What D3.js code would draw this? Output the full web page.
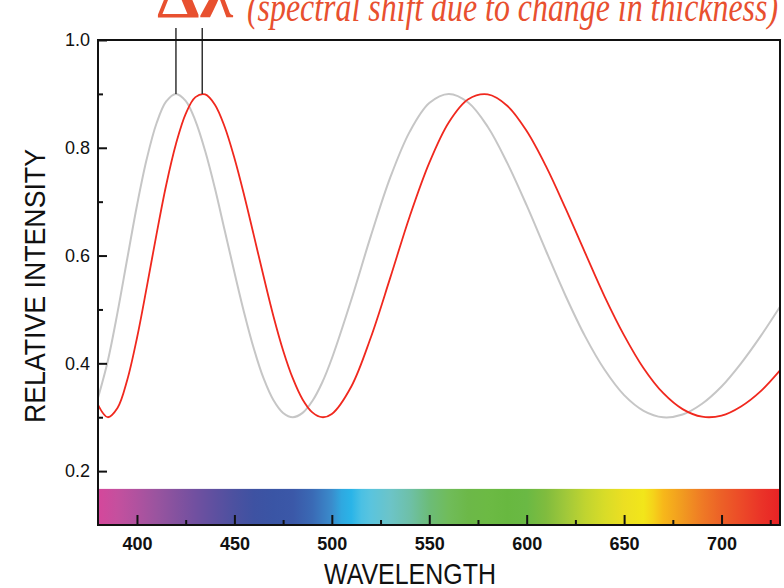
<!DOCTYPE html>
<html><head><meta charset="utf-8">
<script src="https://cdn.jsdelivr.net/npm/d3@7"></script>
<style>
html,body{margin:0;padding:0;background:#fff;}
svg{display:block;}
</style></head>
<body>
<svg id="chart" width="784" height="588"></svg>
<script>
// ---- data ----
const wavelengths = [380,385,390,395,400,405,410,415,420,425,430,435,440,445,450,455,460,465,470,475,480,485,490,495,500,
  510,520,530,540,550,560,570,580,590,600,610,620,630,640,650,660,670,680,690,700,710,720,730];
const intensityThin = [0.336,0.404,0.494,0.594,0.693,0.779,0.845,0.886,0.900,0.887,0.850,0.794,0.725,0.647,0.569,0.494,0.427,0.372,0.332,0.308,0.300,0.308,0.330,0.364,0.409,
  0.518,0.636,0.745,0.830,0.883,0.900,0.884,0.839,0.772,0.693,0.608,0.525,0.450,0.388,0.341,0.312,0.300,0.305,0.325,0.357,0.400,0.450,0.505];
const intensityThick = [0.323,0.300,0.317,0.369,0.447,0.541,0.639,0.731,0.807,0.863,0.894,0.899,0.880,0.839,0.781,0.712,0.637,0.561,0.488,0.424,0.372,0.333,0.309,0.300,0.306,
  0.357,0.448,0.559,0.673,0.772,0.847,0.890,0.899,0.878,0.831,0.765,0.687,0.605,0.524,0.452,0.391,0.345,0.315,0.301,0.303,0.320,0.348,0.387];
const peakWavelengths = [420, 433.5];
const peakIntensity = 0.9;
const xMajorTicks = [400,450,500,550,600,650,700];
const xMinorTicks = [425,475,525,575,625,675,725];
const yMajorTicks = [0.2,0.4,0.6,0.8,1.0];
const yMinorTicks = [0.3,0.5,0.7,0.9];
const spectrumWl = [380,390,400,410,420,430,440,450,460,470,480,490,500,505,510,515,520,530,540,550,560,570,580,590,600,610,620,630,640,650,660,665,670,680,690,700,710,720,730];
const spectrumColors = ["#d5479b","#c4509e","#b0529f","#9a549f","#85529f","#7150a0","#5e50a0","#4c51a0","#3e52a2","#3a55a5","#3b58a8","#3a6ab5","#3a8ccc","#2fa8e0","#2ab4e8","#4ac0e4","#5ac4de","#6cc4c8","#6ec0a8","#6cbc78","#70bc5a","#6cb848","#6cba44","#68b840","#6ab944","#80bc3e","#a0c83a","#c0d430","#d8dc28","#ecdf22","#f2e61a","#f5d31a","#f7b81a","#f19a20","#ef7a25","#ec6027","#ec4a28","#ea3428","#e82225"];
const spectrumTop = 0.167;
const xDomain = [380, 730];
const yDomain = [0.1, 1.0];

// ---- layout ----
const L = 98, R = 780, T = 40, B = 525;
const svg = d3.select("#chart");
const x = d3.scaleLinear().domain(xDomain).range([L, R]);
const y = d3.scaleLinear().domain(yDomain).range([B, T]);

// title (partially cut off at top, as in the source figure)
const title = svg.append("g").attr("fill", "#e8502f");
title.append("text").attr("x", 157).attr("y", 17)
  .attr("font-family", "Liberation Serif, serif").attr("font-weight", "bold")
  .attr("font-size", 62).attr("textLength", 76).attr("lengthAdjust", "spacingAndGlyphs")
  .text("Δλ");
title.append("text").attr("x", 247).attr("y", 21)
  .attr("font-family", "Liberation Serif, serif").attr("font-style", "italic")
  .attr("font-size", 40).attr("textLength", 531).attr("lengthAdjust", "spacingAndGlyphs")
  .text("(spectral shift due to change in thickness)");

// spectrum gradient
const defs = svg.append("defs");
const grad = defs.append("linearGradient").attr("id", "spec")
  .attr("gradientUnits", "userSpaceOnUse")
  .attr("x1", x(xDomain[0])).attr("x2", x(xDomain[1])).attr("y1", 0).attr("y2", 0);
spectrumWl.forEach((w, i) => {
  grad.append("stop").attr("offset", (x(w) - x(xDomain[0])) / (x(xDomain[1]) - x(xDomain[0])))
    .attr("stop-color", spectrumColors[i]);
});
svg.append("rect").attr("x", x(xDomain[0])).attr("y", y(spectrumTop))
  .attr("width", x(xDomain[1]) - x(xDomain[0])).attr("height", y(yDomain[0]) - y(spectrumTop))
  .attr("fill", "url(#spec)");

defs.append("clipPath").attr("id", "clip").append("rect")
  .attr("x", L).attr("y", T).attr("width", R - L).attr("height", B - T);

// curves
const line = (vals) => d3.line().curve(d3.curveCatmullRom.alpha(0.5))
  .x((d, i) => x(wavelengths[i])).y(d => y(d))(vals);
const plot = svg.append("g").attr("clip-path", "url(#clip)");
plot.append("path").attr("d", line(intensityThin)).attr("fill", "none")
  .attr("stroke", "#c6c6c6").attr("stroke-width", 2);
plot.append("path").attr("d", line(intensityThick)).attr("fill", "none")
  .attr("stroke", "#f0281e").attr("stroke-width", 1.8);

// peak markers
svg.selectAll(".peak").data(peakWavelengths).enter().append("line")
  .attr("x1", d => x(d)).attr("x2", d => x(d))
  .attr("y1", 28).attr("y2", y(peakIntensity))
  .attr("stroke", "#333").attr("stroke-width", 1.5);

// axes
const axisFont = "Liberation Sans, Arial, sans-serif";
const gx = svg.append("g").attr("transform", `translate(0,${B})`)
  .call(d3.axisBottom(x).tickValues(xMajorTicks).tickSizeInner(-10).tickSizeOuter(0).tickPadding(12).tickFormat(d3.format("d")));
const gxm = svg.append("g").attr("transform", `translate(0,${B})`)
  .call(d3.axisBottom(x).tickValues(xMinorTicks).tickSizeInner(-5).tickSizeOuter(0).tickFormat(""));
const gy = svg.append("g").attr("transform", `translate(${L},0)`)
  .call(d3.axisLeft(y).tickValues(yMajorTicks).tickSizeInner(-9).tickSizeOuter(0).tickPadding(8).tickFormat(d3.format(".1f")));
const gym = svg.append("g").attr("transform", `translate(${L},0)`)
  .call(d3.axisLeft(y).tickValues(yMinorTicks).tickSizeInner(-5).tickSizeOuter(0).tickFormat(""));
[gx, gxm, gy, gym].forEach(g => {
  g.select(".domain").remove();
  g.selectAll(".tick line").attr("stroke", "#111").attr("stroke-width", 2);
});
gx.selectAll(".tick text").attr("font-family", axisFont).attr("font-size", 18)
  .attr("font-weight", "bold").attr("fill", "#111");
gy.selectAll(".tick text").attr("font-family", axisFont).attr("font-size", 18).attr("fill", "#111");

// frame
svg.append("rect").attr("x", L).attr("y", T).attr("width", R - L).attr("height", B - T)
  .attr("fill", "none").attr("stroke", "#111").attr("stroke-width", 2);

// axis titles
svg.append("text").attr("x", (323 + 497) / 2).attr("y", 584).attr("text-anchor", "middle")
  .attr("font-family", axisFont).attr("font-size", 29).attr("fill", "#111")
  .attr("textLength", 172).attr("lengthAdjust", "spacingAndGlyphs").text("WAVELENGTH");
svg.append("text").attr("transform", "translate(45,286) rotate(-90)").attr("text-anchor", "middle")
  .attr("font-family", axisFont).attr("font-size", 30).attr("fill", "#111")
  .attr("textLength", 274).attr("lengthAdjust", "spacingAndGlyphs").text("RELATIVE INTENSITY");
</script>
</body></html>
